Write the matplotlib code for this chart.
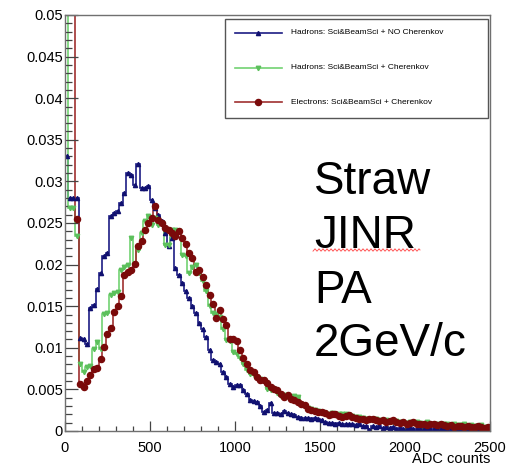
import numpy as np
import matplotlib
matplotlib.use("Agg")
import matplotlib.pyplot as plt
from matplotlib.lines import Line2D
from matplotlib.patches import Rectangle
from matplotlib.ticker import FixedLocator

plt.rcParams['font.family'] = ['Liberation Sans', 'DejaVu Sans']

# ---- data: 125 bins of 20 ADC counts, 0..2500 ----
bin_width = 20
n_bins = 125

hadrons_no_cher = [
    0.033, 0.028, 0.028, 0.028, 0.0112, 0.011, 0.0104, 0.0148, 0.0151, 0.0171,
    0.019, 0.021, 0.0214, 0.0258, 0.0262, 0.0264, 0.0274, 0.0286, 0.031, 0.0308,
    0.0296, 0.0321, 0.0292, 0.0292, 0.0295, 0.0278, 0.0268, 0.026, 0.0252, 0.0238,
    0.0222, 0.0232, 0.0196, 0.0188, 0.0178, 0.0168, 0.016, 0.015, 0.0142, 0.013,
    0.0122, 0.0113, 0.0097, 0.0085, 0.0083, 0.0081, 0.0071, 0.0065, 0.0057, 0.0053,
    0.0055, 0.0055, 0.0049, 0.0045, 0.0037, 0.0036, 0.0035, 0.0030, 0.0023, 0.0025,
    0.0034, 0.0022, 0.0022, 0.0021, 0.0024, 0.0022, 0.0020, 0.0019, 0.0017, 0.0016,
    0.0016, 0.0016, 0.0015, 0.0016, 0.0014, 0.0013, 0.0011, 0.0010, 0.0010, 0.0009,
    0.0010, 0.0008, 0.0009, 0.0008, 0.0008, 0.0007, 0.0008, 0.0006, 0.0006, 0.0001,
    0.0006, 0.0005, 0.0006, 0.0004, 0.0005, 0.0004, 0.0005, 0.0003, 0.0004, 0.0003,
    0.0003, 0.0004, 0.0003, 0.0003, 0.0002, 0.0003, 0.0004, 0.0003, 0.0002, 0.0003,
    0.0003, 0.0002, 0.0003, 0.0002, 0.0001, 0.0003, 0.0002, 0.0001, 0.0002, 0.0003,
    0.0002, 0.0002, 0.0001, 0.0002, 0.0001,
]

hadrons_cher = [
    0.2, 0.0268, 0.0268, 0.0234, 0.0081, 0.0071, 0.0077, 0.0078, 0.0099, 0.0107,
    0.0099, 0.0141, 0.0142, 0.0163, 0.0166, 0.0167, 0.0194, 0.0197, 0.0200, 0.0232,
    0.0201, 0.0218, 0.0238, 0.0252, 0.0258, 0.0248, 0.0256, 0.0248, 0.0250, 0.0224,
    0.0224, 0.0242, 0.0242, 0.0240, 0.0212, 0.0210, 0.0190, 0.0197, 0.0200, 0.0190,
    0.0180, 0.0168, 0.0150, 0.0142, 0.0141, 0.0137, 0.0123, 0.0109, 0.0108, 0.0095,
    0.0093, 0.0088, 0.0081, 0.0073, 0.0069, 0.0067, 0.0065, 0.0063, 0.0061, 0.0050,
    0.0049, 0.0050, 0.0046, 0.0042, 0.0043, 0.0041, 0.0041, 0.0042, 0.0041, 0.0033,
    0.0030, 0.0028, 0.0026, 0.0025, 0.0024, 0.0023, 0.0022, 0.0021, 0.0022, 0.0021,
    0.0020, 0.0020, 0.0021, 0.0019, 0.0018, 0.0017, 0.0017, 0.0016, 0.0015, 0.0014,
    0.0015, 0.0014, 0.0013, 0.0012, 0.0013, 0.0012, 0.0011, 0.0012, 0.0011, 0.0011,
    0.0010, 0.0011, 0.0010, 0.0011, 0.0010, 0.0009, 0.0011, 0.0009, 0.0009, 0.0008,
    0.0009, 0.0008, 0.0008, 0.0007, 0.0008, 0.0007, 0.0007, 0.0008, 0.0006, 0.0007,
    0.0006, 0.0006, 0.0007, 0.0005, 0.0005,
]

electrons_cher = [
    0.2, 0.2, 0.2, 0.0255, 0.0056, 0.0053, 0.0060, 0.0067, 0.0074, 0.0076,
    0.0086, 0.0101, 0.0117, 0.0124, 0.0143, 0.0150, 0.0162, 0.0188, 0.0191, 0.0194,
    0.0201, 0.0222, 0.0228, 0.0242, 0.0250, 0.0256, 0.0270, 0.0254, 0.0250, 0.0244,
    0.0242, 0.0238, 0.0234, 0.0240, 0.0232, 0.0225, 0.0214, 0.0208, 0.0191, 0.0194,
    0.0185, 0.0175, 0.0163, 0.0153, 0.0136, 0.0145, 0.0135, 0.0128, 0.0111, 0.0110,
    0.0108, 0.0097, 0.0088, 0.0080, 0.0073, 0.0071, 0.0065, 0.0061, 0.0061, 0.0058,
    0.0053, 0.0051, 0.0049, 0.0045, 0.0041, 0.0043, 0.0039, 0.0037, 0.0035, 0.0033,
    0.0031, 0.0027, 0.0025, 0.0024, 0.0023, 0.0023, 0.0022, 0.0019, 0.0021, 0.0020,
    0.0018, 0.0017, 0.0018, 0.0019, 0.0017, 0.0016, 0.0015, 0.0014, 0.0013, 0.0015,
    0.0014, 0.0013, 0.0012, 0.0013, 0.0011, 0.0012, 0.0013, 0.0011, 0.0010, 0.0011,
    0.0009, 0.0010, 0.0011, 0.0009, 0.0008, 0.0009, 0.0007, 0.0008, 0.0008, 0.0007,
    0.0008, 0.0007, 0.0006, 0.0007, 0.0005, 0.0006, 0.0006, 0.0005, 0.0006, 0.0005,
    0.0005, 0.0006, 0.0005, 0.0004, 0.0005,
]

labels = ["Hadrons: Sci&BeamSci + NO Cherenkov",
          "Hadrons: Sci&BeamSci + Cherenkov",
          "Electrons: Sci&BeamSci + Cherenkov"]
annotation_lines = ["Straw", "JINR", "PA", "2GeV/c"]
x_label = "ADC counts"
x_ticks = [0, 500, 1000, 1500, 2000, 2500]
x_ticklabels = ['0', '500', '1000', '1500', '2000', '2500']
y_ticks = [0, 0.005, 0.01, 0.015, 0.02, 0.025, 0.03, 0.035, 0.04, 0.045, 0.05]
y_ticklabels = ['0', '0.005', '0.01', '0.015', '0.02', '0.025', '0.03',
                '0.035', '0.04', '0.045', '0.05']

# ---- styles ----
W, H = 510, 466
styles = [
    dict(line='#1c1c84', mfc='#101070', marker='^', ms=3.0),
    dict(line='#72d272', mfc='#5cc05c', marker='v', ms=3.2),
    dict(line='#a03030', mfc='#7a0a0a', marker='o', ms=4.4),
]

fig = plt.figure(figsize=(W / 100, H / 100), dpi=100)
ax = fig.add_axes([65 / W, (H - 431) / H, (490 - 65) / W, (431 - 15) / H])

edges = np.arange(n_bins + 1) * bin_width
centers = edges[:-1] + bin_width / 2

for vals, st in zip([hadrons_no_cher, hadrons_cher, electrons_cher], styles):
    v = np.array(vals)
    ax.stairs(v, edges, baseline=0, color=st['line'], lw=1.2)
    ax.plot(centers, v, linestyle='none', marker=st['marker'], ms=st['ms'],
            color=st['mfc'], mec=st['mfc'])

ax.set_xlim(0, 2500)
ax.set_ylim(0, 0.05)

frame_col = '#707070'
for sp in ax.spines.values():
    sp.set_color(frame_col)
    sp.set_linewidth(1.0)

ax.set_xticks(x_ticks)
ax.set_xticklabels(x_ticklabels)
ax.xaxis.set_minor_locator(FixedLocator(np.arange(0, 2501, 100)))
ax.set_yticks(y_ticks)
ax.set_yticklabels(y_ticklabels)
ax.yaxis.set_minor_locator(FixedLocator(np.arange(0, 0.0501, 0.001)))
ax.tick_params(axis='x', which='major', direction='in', length=7.5, width=0.9,
               color='#444444', labelsize=10.5, pad=7, top=False)
ax.tick_params(axis='x', which='minor', direction='in', length=3.8, width=0.9,
               color='#444444', top=False)
ax.tick_params(axis='y', which='major', direction='in', length=9.5, width=0.9,
               color='#444444', labelsize=10.5, pad=1.5, right=False)
ax.tick_params(axis='y', which='minor', direction='in', length=5, width=0.9,
               color='#444444', right=False)

fig.text(490 / W, (H - 452) / H, x_label, ha='right', va='top', fontsize=10.5)

# ---- legend (manual, ROOT-like box) ----
def fx(px):
    return np.asarray(px) / W

def fy(py):
    return (H - np.asarray(py)) / H

fig.patches.append(Rectangle((fx(225), fy(118)), fx(488) - fx(225), fy(19) - fy(118),
                             transform=fig.transFigure, fill=False,
                             edgecolor='#555555', lw=1.0, zorder=5))
for i, (lab, st) in enumerate(zip(labels, styles)):
    yy = fy(33 + i * 34.5)
    fig.add_artist(Line2D([fx(235), fx(282)], [yy, yy], color=st['line'], lw=1.2,
                          transform=fig.transFigure))
    fig.add_artist(Line2D([fx(258.5)], [yy], linestyle='none', marker=st['marker'],
                          ms=st['ms'], color=st['mfc'], transform=fig.transFigure))
    fig.text(fx(291), yy, lab, fontsize=6, va='center', ha='left')

# ---- big annotation ----
baselines = [194, 248, 303, 356]
for txt, b in zip(annotation_lines, baselines):
    fig.text(fx(314), fy(b), txt, fontsize=33, va='baseline', ha='left')

# spell-check style squiggle under "JINR"
sx = np.linspace(313, 420, 300)
sy = 250 + 1.1 * np.sin(2 * np.pi * sx / 4.0)
fig.add_artist(Line2D(fx(sx), fy(sy), color='#ff4444', lw=0.6,
                      transform=fig.transFigure))

fig.savefig("out.png", dpi=100)
